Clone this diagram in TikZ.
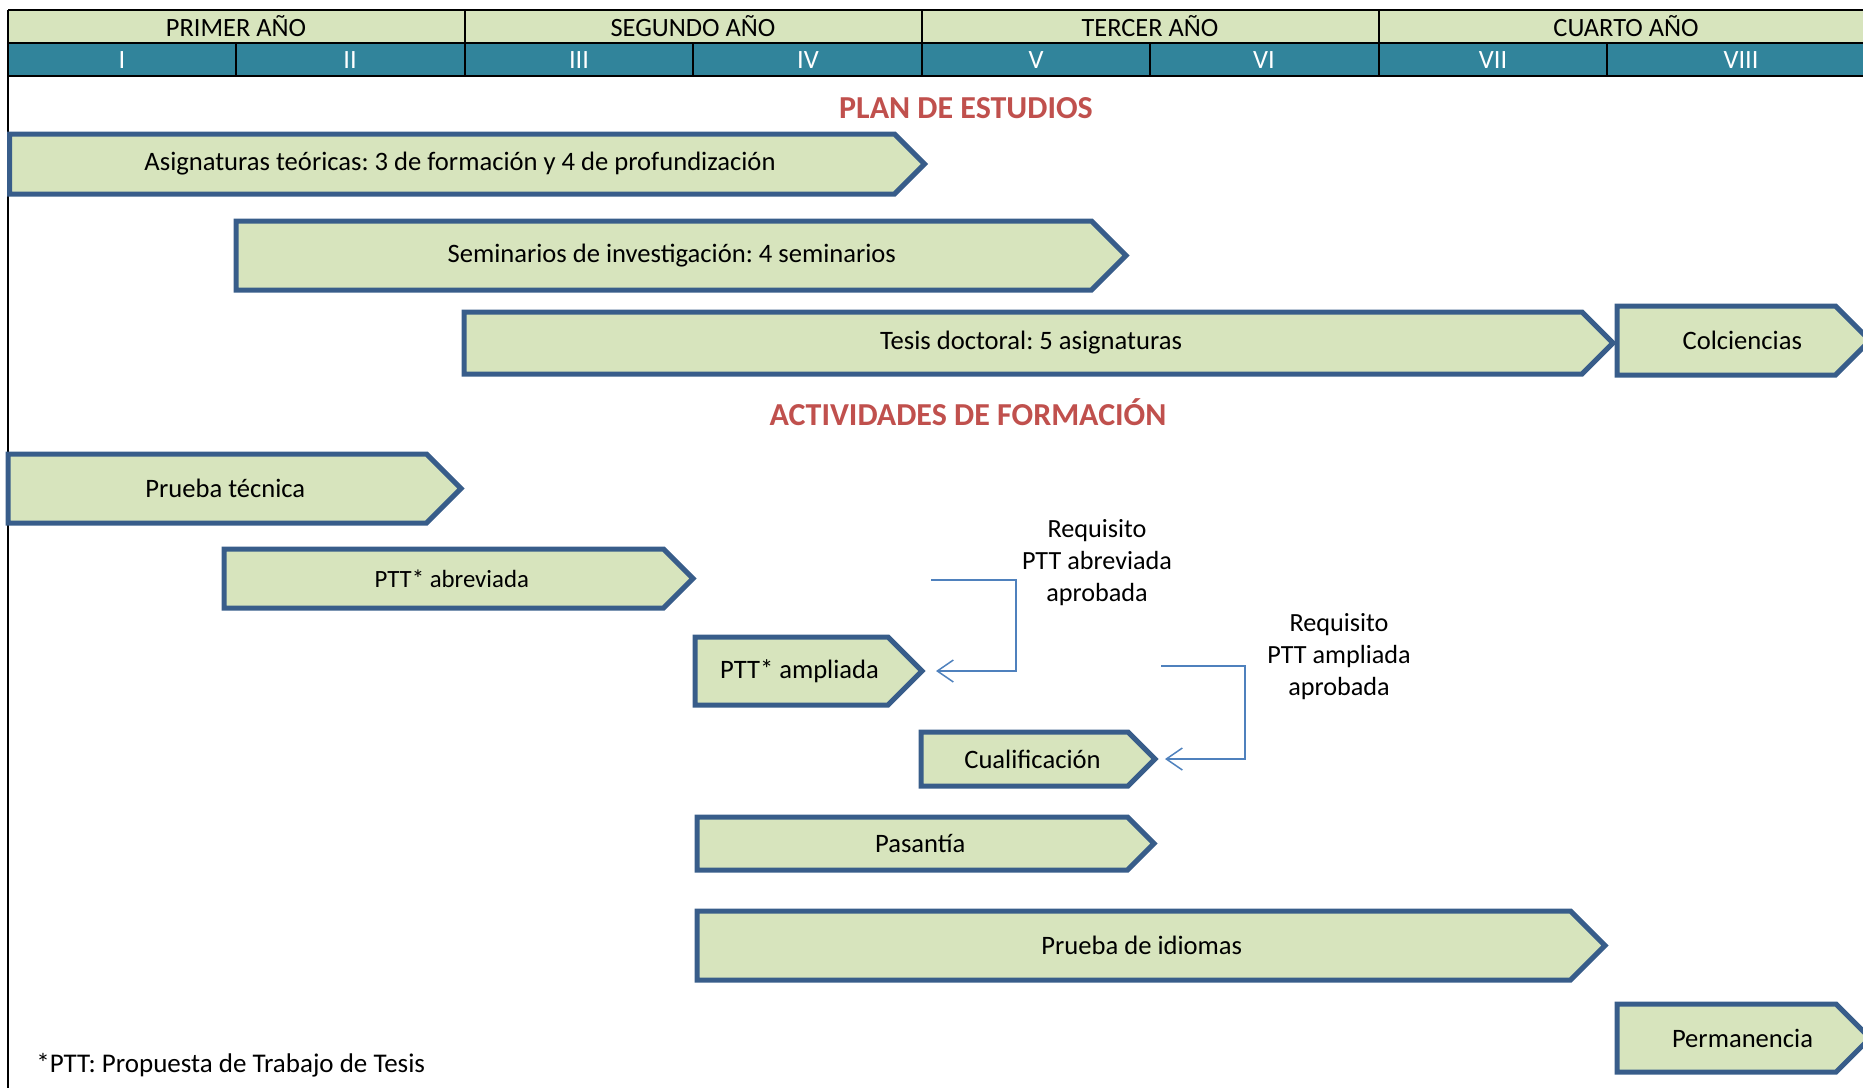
\documentclass[tikz,border=0pt]{standalone}
\usepackage{fontspec}
\setmainfont{Carlito}
\frenchspacing
\usetikzlibrary{shapes.symbols,arrows.meta}

\definecolor{verde}{HTML}{D7E4BD}
\definecolor{bordeazul}{HTML}{385D8A}
\definecolor{filaazul}{HTML}{31849B}
\definecolor{rojotit}{HTML}{C0504D}
\definecolor{flechaazul}{HTML}{4F81BD}

\tikzset{
  fase/.style={signal, signal to=east, signal pointer angle=90,
    draw=bordeazul, fill=verde, line width=2.5pt, outer sep=0pt,
    inner sep=0pt, anchor=west, font=\fontsize{13.3}{15}\selectfont,
    execute at begin node=\hspace*{8pt}},
  cabecera/.style={inner sep=0pt, font=\fontsize{13.2}{15}\selectfont},
  semestre/.style={cabecera, text=white},
  titulo/.style={inner sep=0pt, text=rojotit, font=\fontsize{16}{18}\selectfont\bfseries},
  requisito/.style={inner sep=0pt, align=center, font=\fontsize{13.1}{16}\selectfont},
  conector/.style={draw=flechaazul, line width=0.75pt,
    -{Straight Barb[length=8pt,width=11pt]}}
}

\begin{document}
\begin{tikzpicture}[x=0.5pt, y=-0.5pt]
    \clip (0,0) rectangle (1863,1087);

    % the table with years and semesters
    \fill[verde] (8,9.5) rectangle (1880,43);
    \fill[filaazul] (8,43) rectangle (1880,76);
    \draw[line width=1pt] (8,9.5) -- (1880,9.5);
    \draw[line width=1pt] (8,43) -- (1880,43);
    \draw[line width=1pt] (8,76) -- (1880,76);
    \draw[line width=1pt] (8,9.5) -- (8,1090);
    \foreach \x in {465,922,1379}
        \draw[line width=1pt] (\x,9.5) -- (\x,76);
    \foreach \x in {236,693,1150,1607}
        \draw[line width=1pt] (\x,43) -- (\x,76);

    \node[cabecera] (a1) at (236,26) {PRIMER AÑO};
    \node[cabecera] (a2) at (693,26) {SEGUNDO AÑO};
    \node[cabecera] (a3) at (1150,26) {TERCER AÑO};
    \node[cabecera] (a4) at (1626,26) {CUARTO AÑO};
    \foreach \t/\x [count=\i] in {I/122,II/350,III/579,IV/808,V/1036,VI/1264,VII/1493,VIII/1741}
        \node[semestre] (s\i) at (\x,60) {\t};

    % plan de estudios
    \node[titulo] (plan) at (966,108) {PLAN DE ESTUDIOS};
    \node[fase, minimum width=457.5pt, minimum height=30pt] (asig) at (9.5,164) {Asignaturas teóricas: 3 de formación y 4 de profundización};
    \node[fase, minimum width=445pt, minimum height=34.5pt] (semi) at (236,255.5) {Seminarios de investigación: 4 seminarios};
    \node[fase, minimum width=574.5pt, minimum height=31pt] (tesis) at (464,343) {Tesis doctoral: 5 asignaturas};
    \node[fase, minimum width=126.5pt, minimum height=34.5pt] (colc) at (1617,340.5) {\hspace*{8pt}Colciencias};

    % actividades de formacion
    \node[titulo] (activ) at (968,412) {ACTIVIDADES DE FORMACIÓN};
    \node[fase, minimum width=226.5pt, minimum height=34.5pt] (prueba) at (8,488.5) {Prueba técnica};
    \node[fase, minimum width=234.5pt, minimum height=29.5pt, font=\fontsize{12.4}{14}\selectfont] (abrev) at (224,578.5) {PTT* abreviada};
    \node[fase, minimum width=113.5pt, minimum height=34pt] (ampl) at (695,671) {PTT* ampliada};
    \node[fase, minimum width=117pt, minimum height=27pt] (cual) at (921,759) {Cualificación};
    \node[fase, minimum width=228.5pt, minimum height=26.5pt] (pasan) at (697,843.5) {Pasantía};
    \node[fase, minimum width=454pt, minimum height=34.5pt] (idiom) at (697,945.5) {Prueba de idiomas};
    \node[fase, minimum width=126.5pt, minimum height=34pt] (perma) at (1617,1038) {\hspace*{8pt}Permanencia};

    % the requirements and their arrows
    \node[requisito] (req1) at (1097,562.5) {Requisito\\PTT abreviada\\aprobada};
    \node[requisito] (req2) at (1339,657) {Requisito\\PTT ampliada\\aprobada};
    \coordinate (r1) at (931,580);
    \coordinate (r2) at (1161,666);
    \draw[conector] (r1) -- ++(85,0) |- ([xshift=7pt]ampl.east);
    \draw[conector] (r2) -- ++(84,0) |- ([xshift=5pt]cual.east);

    % footnote
    \node[inner sep=0pt, anchor=west, font=\fontsize{13.5}{15}\selectfont] (nota) at (36,1065) {*PTT: Propuesta de Trabajo de Tesis};
\end{tikzpicture}
\end{document}
